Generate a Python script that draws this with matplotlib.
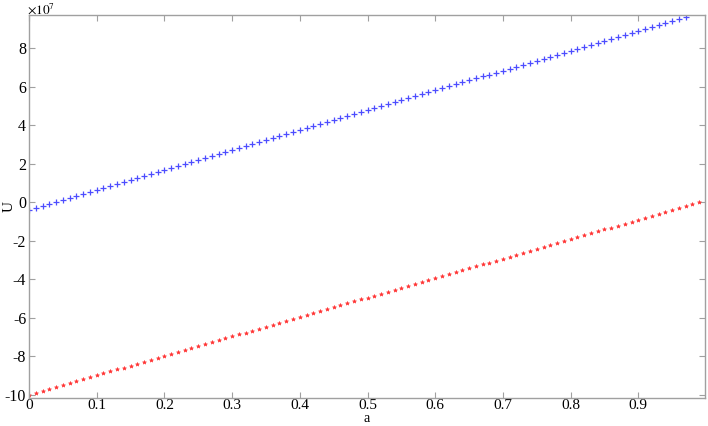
import numpy as np
import matplotlib
matplotlib.use("Agg")
import matplotlib.pyplot as plt
from matplotlib.ticker import FuncFormatter, FixedLocator

plt.rcParams['font.family'] = ['Liberation Serif', 'DejaVu Serif']
plt.rcParams['mathtext.fontset'] = 'stix'

# a values (0 .. 0.99, step 0.01)
a_red = np.round(np.arange(0, 100) * 0.01, 2)
a_blue = np.round(np.arange(0, 98) * 0.01, 2)

# U values, in units of 1e7
u_blue_e7 = [
    -0.400, -0.297, -0.193, -0.090, 0.014, 0.118, 0.221, 0.325, 0.428, 0.532,
    0.635, 0.739, 0.842, 0.946, 1.049, 1.153, 1.256, 1.360, 1.463, 1.567,
    1.670, 1.774, 1.877, 1.981, 2.084, 2.188, 2.291, 2.395, 2.498, 2.602,
    2.705, 2.809, 2.912, 3.016, 3.119, 3.223, 3.326, 3.430, 3.533, 3.637,
    3.740, 3.844, 3.947, 4.051, 4.154, 4.258, 4.361, 4.465, 4.568, 4.672,
    4.775, 4.879, 4.982, 5.086, 5.189, 5.293, 5.396, 5.500, 5.603, 5.707,
    5.810, 5.914, 6.017, 6.121, 6.224, 6.328, 6.431, 6.535, 6.638, 6.742,
    6.845, 6.949, 7.052, 7.156, 7.259, 7.363, 7.466, 7.570, 7.673, 7.777,
    7.880, 7.984, 8.087, 8.191, 8.294, 8.398, 8.501, 8.605, 8.708, 8.812,
    8.915, 9.019, 9.122, 9.226, 9.329, 9.433, 9.536, 9.640,
]
u_red_e7 = [
    -10.000, -9.899, -9.798, -9.697, -9.596, -9.495, -9.394, -9.293, -9.192, -9.091,
    -8.990, -8.889, -8.788, -8.687, -8.586, -8.485, -8.384, -8.283, -8.182, -8.081,
    -7.980, -7.879, -7.778, -7.677, -7.576, -7.475, -7.374, -7.273, -7.172, -7.071,
    -6.970, -6.869, -6.768, -6.667, -6.566, -6.465, -6.364, -6.263, -6.162, -6.061,
    -5.960, -5.859, -5.758, -5.657, -5.556, -5.455, -5.354, -5.253, -5.152, -5.051,
    -4.950, -4.849, -4.748, -4.647, -4.546, -4.445, -4.344, -4.243, -4.142, -4.041,
    -3.940, -3.839, -3.738, -3.637, -3.536, -3.435, -3.334, -3.233, -3.132, -3.031,
    -2.930, -2.829, -2.728, -2.627, -2.526, -2.425, -2.324, -2.223, -2.122, -2.021,
    -1.920, -1.819, -1.718, -1.617, -1.516, -1.415, -1.314, -1.213, -1.112, -1.011,
    -0.910, -0.809, -0.708, -0.607, -0.506, -0.405, -0.304, -0.203, -0.102, -0.001,
]
u_blue = np.array(u_blue_e7) * 1e7
u_red = np.array(u_red_e7) * 1e7

x_ticks = [0, 0.1, 0.2, 0.3, 0.4, 0.5, 0.6, 0.7, 0.8, 0.9]
y_ticks = np.array([-10, -8, -6, -4, -2, 0, 2, 4, 6, 8]) * 1e7

fig = plt.figure(figsize=(7.08, 4.26), dpi=100)
ax = fig.add_axes([29 / 708, 1 - 398 / 426, 676 / 708, 383 / 426])

ax.plot(a_blue, u_blue, linestyle='none', marker='+', color=(0.3, 0.3, 1.0),
        markersize=4.0, markeredgewidth=0.9)
ax.plot(a_red, u_red, linestyle='none', marker='*', color=(1.0, 0.2, 0.2),
        markersize=3.0, markeredgewidth=0.4)

ax.set_xlim(0, 0.9985)
ax.set_ylim(-10.17e7, 9.73e7)
ax.xaxis.set_major_locator(FixedLocator(x_ticks))
ax.yaxis.set_major_locator(FixedLocator(y_ticks))
ax.xaxis.set_major_formatter(FuncFormatter(lambda v, p: '%g' % v))
ax.yaxis.set_major_formatter(FuncFormatter(lambda v, p: '%d' % round(v / 1e7)))
fig.text(27 / 708, 1 - 9 / 426, r'$\times10^{7}$', fontsize=9.5, va='center', ha='left')

spine_col = '#a0a0a0'
for s in ax.spines.values():
    s.set_color(spine_col)
    s.set_linewidth(1.0)
ax.tick_params(axis='y', direction='in', length=4, width=0.8, color=spine_col,
               right=True, labelsize=11.5, labelcolor='black', pad=2)
ax.tick_params(axis='x', direction='in', length=4, width=0.8, color=spine_col,
               top=True, labelsize=11, labelcolor='black', pad=1)

fig.text(367 / 708, 1 - 425 / 426, 'a', fontsize=10, ha='center', va='bottom')
fig.text(9 / 708, 1 - 207 / 426, 'U', fontsize=11, rotation=90,
         ha='center', va='center')

fig.savefig('out.png', dpi=100)
